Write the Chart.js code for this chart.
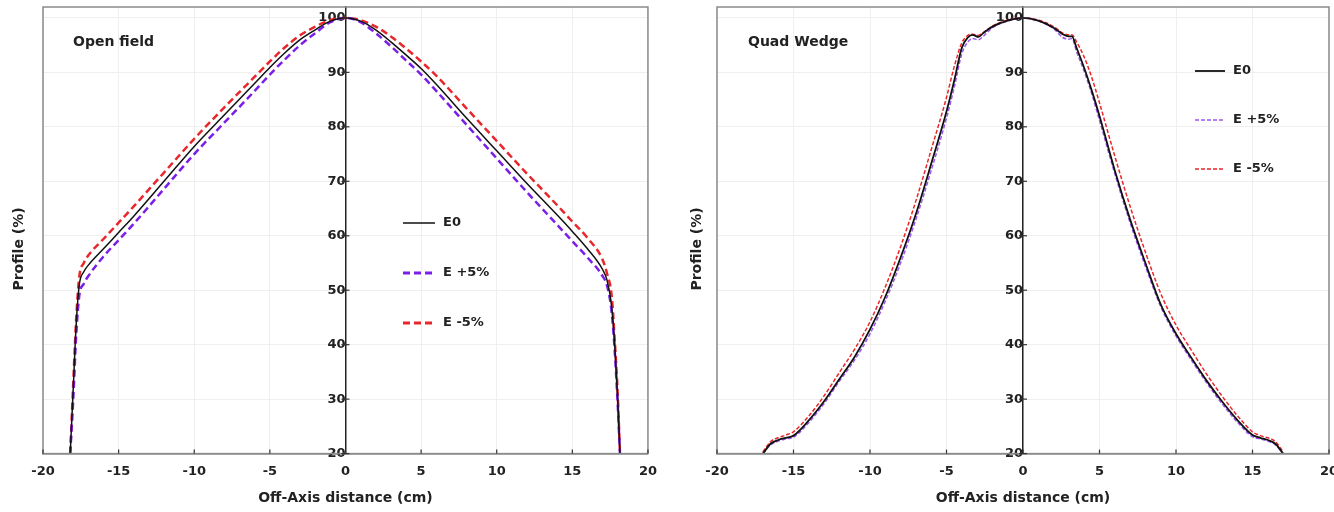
<!DOCTYPE html>
<html>
<head>
<meta charset="utf-8">
<script src="https://cdn.jsdelivr.net/npm/chart.js@4.4.1/dist/chart.umd.min.js"></script>
<style>
  html, body { margin: 0; padding: 0; background: #fff; }
  .wrap { position: relative; width: 1334px; height: 512px; }
  .panel { position: absolute; top: 0; width: 667px; height: 512px; }
</style>
</head>
<body>
<div class="wrap">
  <div class="panel" style="left:0"><canvas id="openChart"></canvas></div>
  <div class="panel" style="left:667px"><canvas id="wedgeChart"></canvas></div>
</div>
<script>
// --- data: open field ---
const openOffsets = [-18.2, -18.0, -17.8, -17.6, -17.3, -17, -16, -15, -14, -12, -10, -8, -6, -5, -4, -3, -2, -1, 0,
                     1, 2, 3, 4, 5, 6, 8, 10, 12, 14, 15, 16, 17, 17.3, 17.6, 17.8, 18.0, 18.15];
const openE0   = [20, 32, 44, 51, 53.4, 54.6, 57.6, 60.6, 63.6, 70, 76.4, 82.2, 88.0, 90.9, 93.6, 96.0, 97.8, 99.4, 100,
                  99.4, 97.8, 95.6, 93.2, 90.7, 87.8, 81.6, 75.6, 69.6, 63.8, 60.8, 57.6, 53.8, 51.8, 47, 40, 30, 20];
const openEp5  = [20, 30, 42, 49, 51.2, 52.6, 56.2, 59.2, 62.2, 68.6, 75, 80.8, 86.6, 89.6, 92.4, 95, 97.2, 99.2, 100,
                  99.2, 97.2, 94.8, 92.2, 89.6, 86.6, 80.4, 74.2, 68, 62, 59, 56, 52.6, 50.8, 46, 39, 29, 20];
const openEm5  = [20, 33, 45, 52.5, 55, 56.4, 59.4, 62.4, 65.4, 71.6, 77.8, 83.6, 89.2, 92, 94.6, 96.8, 98.4, 99.6, 100,
                  99.6, 98.4, 96.6, 94.4, 92, 89.4, 83.4, 77.4, 71.4, 65.6, 62.6, 59.6, 55.6, 53, 49, 41, 31, 20];

// --- data: quad wedge ---
const wedgeOffsets = [-17, -16.5, -16, -15.5, -15, -14, -13, -12, -11, -10, -9, -8, -7, -6, -5, -4.5, -4, -3.6, -3.3, -2.9, -2.6, -2, -1, 0,
                      1, 2, 2.6, 3, 3.2, 3.5, 4, 4.5, 5, 6, 7, 8, 9, 10, 11, 12, 13, 14, 15, 15.5, 16, 16.5, 17];
const wedgeE0  = [20, 21.8, 22.5, 22.9, 23.3, 26.1, 29.6, 33.7, 37.8, 42.8, 48.8, 56, 64, 73.2, 82.8, 88.4, 94.5, 96.4, 96.9, 96.5, 97.2, 98.4, 99.5, 100,
                  99.5, 98.2, 97, 96.6, 96.6, 94.5, 90.8, 86.6, 82, 72, 63, 55, 47.4, 42, 37.6, 33.4, 29.6, 26.2, 23.4, 22.9, 22.5, 21.8, 20];
const wedgeEp5 = [20, 21.6, 22.3, 22.7, 23, 25.7, 29.2, 33.3, 37.2, 42, 48, 55, 63, 72, 81.6, 87.2, 93.4, 95.6, 96.2, 96.0, 96.6, 98.2, 99.4, 100,
                  99.4, 98, 96.4, 96.1, 96.2, 93.8, 90.2, 86, 81.2, 71.4, 62.4, 54.4, 47, 41.6, 37.2, 33, 29.2, 25.8, 23.1, 22.7, 22.3, 21.6, 20];
const wedgeEm5 = [20.3, 22.2, 22.9, 23.4, 24, 26.9, 30.6, 34.9, 39.2, 44.2, 50.6, 58, 66.4, 75.8, 85.4, 91, 95.4, 96.8, 97, 96.8, 97.3, 98.5, 99.6, 100,
                  99.6, 98.4, 97.2, 96.9, 96.9, 95.6, 92.8, 89, 84.4, 74.6, 65.4, 57, 49.4, 43.6, 39, 34.6, 30.6, 27, 24, 23.3, 22.9, 22.2, 20.3];

const seriesLabels = ['E0', 'E +5%', 'E -5%'];
const xTicksStep = 5;
const yTickValues = [20, 30, 40, 50, 60, 70, 80, 90, 100];

const FONT = 'DejaVu Sans';

function toPoints(xs, ys) {
    return xs.map((x, i) => ({ x: x, y: ys[i] }));
}

// frame, tick marks, panel label, y title and legend drawn on top
const panelDecor = {
    id: 'panelDecor',
    afterDraw(chart, args, o) {
        const { ctx, chartArea: a, scales } = chart;
        ctx.save();
        ctx.strokeStyle = '#8a8a8a';
        ctx.lineWidth = 1.5;
        ctx.strokeRect(a.left, a.top, a.right - a.left, a.bottom - a.top);

        ctx.strokeStyle = '#333';
        ctx.lineWidth = 1.2;
        const x0 = scales.x.getPixelForValue(0);
        scales.x.ticks.forEach(t => {
            const px = scales.x.getPixelForValue(t.value);
            ctx.beginPath(); ctx.moveTo(px, a.bottom); ctx.lineTo(px, a.bottom - 4); ctx.stroke();
        });
        scales.y.ticks.forEach(t => {
            const py = scales.y.getPixelForValue(t.value);
            ctx.beginPath(); ctx.moveTo(x0 - 4, py); ctx.lineTo(x0 + 4, py); ctx.stroke();
        });

        ctx.fillStyle = '#222';
        ctx.font = 'bold 14px "' + FONT + '"';
        ctx.textBaseline = 'middle';
        ctx.fillText(o.label, o.labelX, o.labelY);

        // legend
        ctx.font = 'bold 13px "' + FONT + '"';
        chart.data.datasets.forEach((ds, i) => {
            const y = o.legendY + i * o.legendDy;
            ctx.save();
            ctx.strokeStyle = ds.borderColor;
            ctx.lineWidth = ds.legendWidth || ds.borderWidth;
            ctx.setLineDash(ds.borderDash || []);
            ctx.beginPath(); ctx.moveTo(o.legendX, y); ctx.lineTo(o.legendX + o.legendLen, y); ctx.stroke();
            ctx.restore();
            ctx.fillText(ds.label, o.legendX + o.legendLen + 8, y);
        });

        // y title
        ctx.font = 'bold 14px "' + FONT + '"';
        ctx.translate(o.yTitleX, o.yTitleY);
        ctx.rotate(-Math.PI / 2);
        ctx.textAlign = 'center';
        ctx.fillText('Profile (%)', 0, 0);
        ctx.restore();
    }
};

function makeChart(canvasId, datasets, decor, padding, clipLastLabel) {
    return new Chart(document.getElementById(canvasId), {
        type: 'line',
        data: { datasets: datasets },
        plugins: [panelDecor],
        options: {
            responsive: true,
            maintainAspectRatio: false,
            animation: false,
            layout: { padding: padding },
            elements: { point: { radius: 0 }, line: { cubicInterpolationMode: 'monotone' } },
            plugins: { legend: { display: false }, tooltip: { enabled: false }, panelDecor: decor },
            scales: {
                x: {
                    type: 'linear', min: -20, max: 20,
                    afterFit: s => { if (clipLastLabel) s.paddingRight = 0; },
                    ticks: { stepSize: xTicksStep, color: '#222', padding: 10, maxRotation: 0,
                             font: { family: FONT, size: 13, weight: 'bold' } },
                    grid: { color: '#efefef', drawTicks: false },
                    border: { color: '#666', width: 1.5 },
                    title: { display: true, text: 'Off-Axis distance (cm)', color: '#222',
                             font: { family: FONT, size: 14, weight: 'bold' }, padding: { top: 1, bottom: 0 } }
                },
                y: {
                    type: 'linear', position: { x: 0 }, min: 20, max: 102,
                    afterBuildTicks: s => { s.ticks = yTickValues.map(v => ({ value: v })); },
                    afterFit: s => { s.paddingTop = 0; s.paddingBottom = 0; },
                    ticks: { color: '#222', padding: 5,
                             font: { family: FONT, size: 13, weight: 'bold' } },
                    grid: { color: '#efefef', drawTicks: false },
                    border: { color: '#222', width: 1.5 }
                }
            }
        }
    });
}

makeChart('openChart', [
    { label: seriesLabels[0], data: toPoints(openOffsets, openE0), borderColor: '#111', borderWidth: 1.5 },
    { label: seriesLabels[1], data: toPoints(openOffsets, openEp5), borderColor: '#7b1fe8', borderWidth: 2.5, borderDash: [7, 4], legendWidth: 3 },
    { label: seriesLabels[2], data: toPoints(openOffsets, openEm5), borderColor: '#e8262b', borderWidth: 2.5, borderDash: [7, 4], legendWidth: 3 }
], { label: 'Open field', labelX: 73, labelY: 42, legendX: 403, legendLen: 32, legendY: 223, legendDy: 50, yTitleX: 19, yTitleY: 249 },
   { left: 43, right: 16, top: 7, bottom: 5 }, false);

makeChart('wedgeChart', [
    { label: seriesLabels[0], data: toPoints(wedgeOffsets, wedgeE0), borderColor: '#111', borderWidth: 1.8 },
    { label: seriesLabels[1], data: toPoints(wedgeOffsets, wedgeEp5), borderColor: '#9a55f2', borderWidth: 1.5, borderDash: [4, 2] },
    { label: seriesLabels[2], data: toPoints(wedgeOffsets, wedgeEm5), borderColor: '#e8262b', borderWidth: 1.5, borderDash: [4, 2] }
], { label: 'Quad Wedge', labelX: 81, labelY: 42, legendX: 528, legendLen: 30, legendY: 71, legendDy: 49, yTitleX: 30, yTitleY: 249 },
   { left: 50, right: 5, top: 7, bottom: 5 }, true);
</script>
</body>
</html>
